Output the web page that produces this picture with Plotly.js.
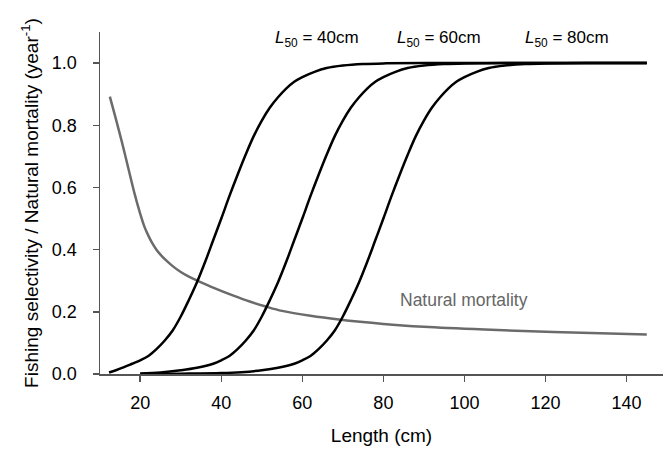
<!DOCTYPE html>
<html>
<head>
<meta charset="utf-8">
<script src="https://cdn.plot.ly/plotly-3.0.1.min.js"></script>
<style>html,body{margin:0;padding:0;background:#fff;}#chart{width:663px;height:454px;}</style>
</head>
<body>
<div id="chart"></div>
<script>
// Selectivity curve, L50 = 40 cm
const len40 = [12.3, 14, 16, 18, 20, 22, 24, 26, 28, 30, 32, 34, 36, 38, 40, 42, 44, 46, 48, 50, 52, 54, 56, 58, 60, 63, 66, 70, 75, 80, 90, 145];
const sel40 = [0.005, 0.012, 0.022, 0.033, 0.044, 0.058, 0.08, 0.107, 0.14, 0.185, 0.238, 0.295, 0.36, 0.43, 0.5, 0.572, 0.64, 0.705, 0.765, 0.815, 0.857, 0.89, 0.918, 0.94, 0.955, 0.972, 0.984, 0.992, 0.997, 0.999, 1, 1];

// Selectivity curve, L50 = 60 cm
const len60 = [20, 25, 30, 34, 38, 40, 42, 44, 46, 48, 50, 52, 54, 56, 58, 60, 62, 64, 66, 68, 70, 72, 74, 76, 78, 80, 83, 86, 90, 95, 100, 110, 145];
const sel60 = [0.002, 0.005, 0.012, 0.02, 0.033, 0.044, 0.058, 0.08, 0.107, 0.14, 0.185, 0.238, 0.295, 0.36, 0.43, 0.5, 0.572, 0.64, 0.705, 0.765, 0.815, 0.857, 0.89, 0.918, 0.94, 0.955, 0.972, 0.984, 0.992, 0.997, 0.999, 1, 1];

// Selectivity curve, L50 = 80 cm
const len80 = [20, 30, 40, 45, 50, 54, 58, 60, 62, 64, 66, 68, 70, 72, 74, 76, 78, 80, 82, 84, 86, 88, 90, 92, 94, 96, 98, 100, 103, 106, 110, 115, 120, 130, 145];
const sel80 = [0.0, 0.001, 0.003, 0.006, 0.012, 0.02, 0.033, 0.044, 0.058, 0.08, 0.107, 0.14, 0.185, 0.238, 0.295, 0.36, 0.43, 0.5, 0.572, 0.64, 0.705, 0.765, 0.815, 0.857, 0.89, 0.918, 0.94, 0.955, 0.972, 0.984, 0.992, 0.997, 0.999, 1, 1];

// Natural mortality
const lenM = [12.5, 14, 15.5, 17, 18.5, 20, 21, 22, 23, 24, 25, 26, 28, 30, 32, 34.5, 38, 43, 47, 51, 55, 62, 69, 80, 90, 105, 122, 145];
const valM = [0.892, 0.82, 0.745, 0.665, 0.585, 0.515, 0.475, 0.445, 0.42, 0.4, 0.384, 0.37, 0.347, 0.328, 0.313, 0.298, 0.278, 0.252, 0.233, 0.217, 0.203, 0.187, 0.175, 0.161, 0.152, 0.143, 0.135, 0.127];

// Labels
const curveLabels = ['<i>L</i><sub>50</sub> = 40cm', '<i>L</i><sub>50</sub> = 60cm', '<i>L</i><sub>50</sub> = 80cm'];
const curveLabelX = [63.5, 93.7, 125.3];
const curveLabelY = [1.078, 1.078, 1.078];
const mLabel = 'Natural mortality';
const xTicks = [20, 40, 60, 80, 100, 120, 140];
const yTicks = [0, 0.2, 0.4, 0.6, 0.8, 1.0];

const F = 'Liberation Sans, Arial, sans-serif';
const black = {color: '#000000', width: 2.5, shape: 'spline', smoothing: 1};
const traces = [
  {x: lenM, y: valM, mode: 'lines', line: {color: '#6b6b6b', width: 2.5, shape: 'spline', smoothing: 1}, hoverinfo: 'skip'},
  {x: len40, y: sel40, mode: 'lines', line: black, hoverinfo: 'skip'},
  {x: len60, y: sel60, mode: 'lines', line: black, hoverinfo: 'skip'},
  {x: len80, y: sel80, mode: 'lines', line: black, hoverinfo: 'skip'}
];

const annotations = curveLabels.map((t, i) => ({
  x: curveLabelX[i], y: curveLabelY[i], xref: 'x', yref: 'y', text: t, showarrow: false,
  font: {family: F, size: 17, color: '#000'}, xanchor: 'center', yanchor: 'middle'
}));
annotations.push({x: 100, y: 0.239, xref: 'x', yref: 'y', text: mLabel, showarrow: false,
  font: {family: F, size: 17.5, color: '#666666'}, xanchor: 'center', yanchor: 'middle'});

const layout = {
  width: 663, height: 454,
  margin: {l: 100, r: 0, t: 32.3, b: 80.3},
  paper_bgcolor: '#fff', plot_bgcolor: '#fff',
  showlegend: false,
  font: {family: F, size: 18, color: '#000'},
  xaxis: {
    range: [10.07, 149.0], tickvals: xTicks, ticks: 'outside', ticklen: 6, tickwidth: 1.5, tickcolor: '#555',
    showline: true, linecolor: '#555', linewidth: 1.5, showgrid: false, zeroline: false,
    tickfont: {family: F, size: 18, color: '#000'}, ticklabelstandoff: 6,
    title: {text: 'Length (cm)', font: {family: F, size: 19, color: '#000'}, standoff: 16}
  },
  yaxis: {
    range: [0, 1.1], tickvals: yTicks, tickformat: '.1f', ticks: 'outside', ticklen: 6, tickwidth: 1.5, tickcolor: '#555',
    showline: true, linecolor: '#555', linewidth: 1.5, showgrid: false, zeroline: false,
    tickfont: {family: F, size: 18, color: '#000'}, ticklabelstandoff: 12,
    title: {text: 'Fishing selectivity / Natural mortality (year<sup>-1</sup>)', font: {family: F, size: 19, color: '#000'}, standoff: 8}
  },
  annotations: annotations
};

Plotly.newPlot('chart', traces, layout, {staticPlot: true, displayModeBar: false});
</script>
</body>
</html>
